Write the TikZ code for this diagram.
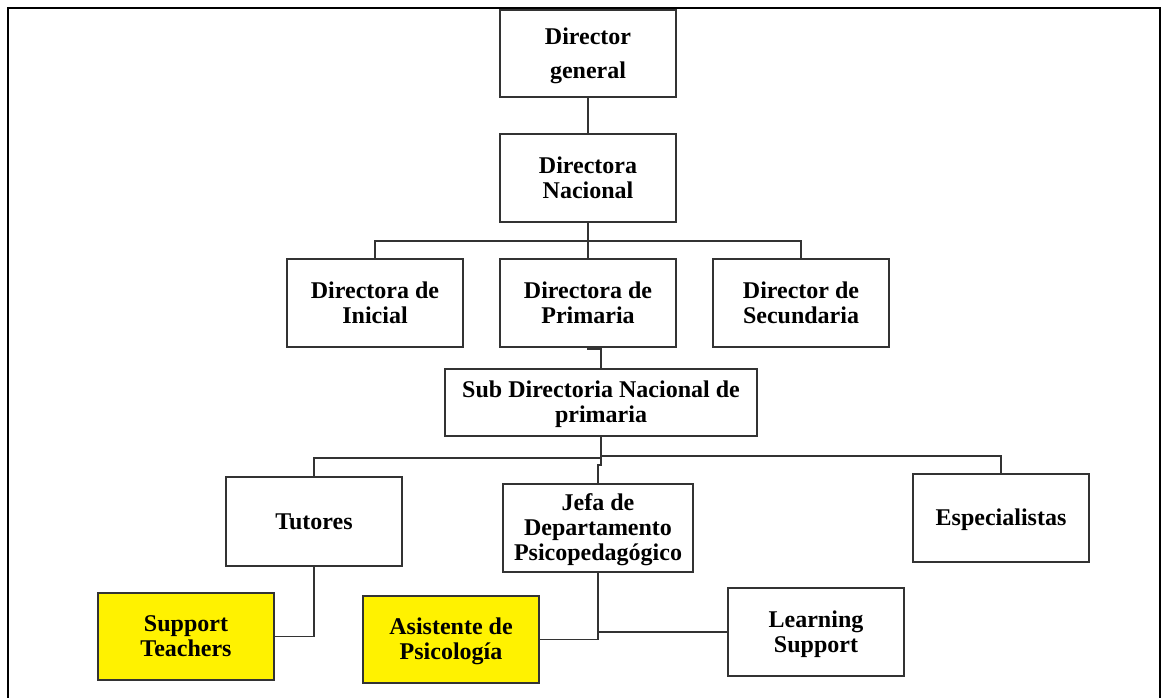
\documentclass[tikz,border=0pt]{standalone}
\usepackage{fontspec}
\setmainfont{Liberation Serif}
\newcommand\boxtxt[2][5.9pt]{\raisebox{0pt}[\dimexpr\height+#1\relax][\depth]{\begin{tabular}{@{}c@{}}#2\end{tabular}}}
\begin{document}
\begin{tikzpicture}[x=1pt,y=-1pt,
  box/.style={draw=black!80, line width=1.3pt, minimum width=176pt, minimum height=88pt, inner sep=0pt,
    font=\fontsize{24}{25}\selectfont\bfseries},
  hl/.style={box, fill=yellow},
  conn/.style={draw=black!80, line width=1.3pt}]
\useasboundingbox (0,0) rectangle (1164,698);
\fill[white] (0,0) rectangle (1164,698);
\draw[line width=2pt, black] (8,698) -- (8,8.5) -- (1160,8.5) -- (1160,698);

\node[box, minimum height=87pt, font=\fontsize{24}{34}\selectfont\bfseries] (dg) at (588,53.5) {\boxtxt[2.3pt]{Director\\general}};
\node[box] (dn) at (588,178) {\boxtxt{Directora\\Nacional}};
\node[box] (ini) at (375,303) {\boxtxt{Directora de\\Inicial}};
\node[box] (pri) at (588,303) {\boxtxt{Directora de\\Primaria}};
\node[box] (sec) at (801,303) {\boxtxt{Director de\\Secundaria}};
\node[box, minimum width=312pt, minimum height=67pt] (sub) at (601,402.5) {\boxtxt{Sub Directoria Nacional de\\primaria}};
\node[box, minimum height=89pt] (tut) at (314,521.5) {\boxtxt{Tutores}};
\node[box, minimum width=190pt] (jefa) at (598,528) {\boxtxt{Jefa de\\Departamento\\Psicopedagógico}};
\node[box] (esp) at (1001,518) {\boxtxt{Especialistas}};
\node[hl, minimum height=87pt] (sup) at (186,636.5) {\boxtxt{Support\\Teachers}};
\node[hl, minimum height=87pt] (asi) at (451,639.5) {\boxtxt{Asistente de\\Psicología}};
\node[box] (lea) at (816,632) {\boxtxt{Learning\\Support}};

\coordinate (b1) at (588,241);
\coordinate (j1) at (588,349);
\coordinate (b2) at (601,456);
\coordinate (b3) at (601,458);
\coordinate (b4) at (601,465);

\draw[conn] (dg.south) -- (dn.north);
\draw[conn] (dn.south) -- (b1);
\draw[conn] (ini.north) |- (b1) -| (sec.north);
\draw[conn] (b1) -- (pri.north);
\draw[conn] (pri.south) -- (j1) -| (sub.north);
\draw[conn] (sub.south) -- (b2) -| (esp.north);
\draw[conn] (b3) -| (tut.north);
\draw[conn] (b2) -- (b4) -| (jefa.north);
\draw[conn] (tut.south) |- (sup.east);
\draw[conn] (jefa.south) |- (asi.east);
\draw[conn] (jefa.south |- lea.west) -- (lea.west);
\end{tikzpicture}
\end{document}
